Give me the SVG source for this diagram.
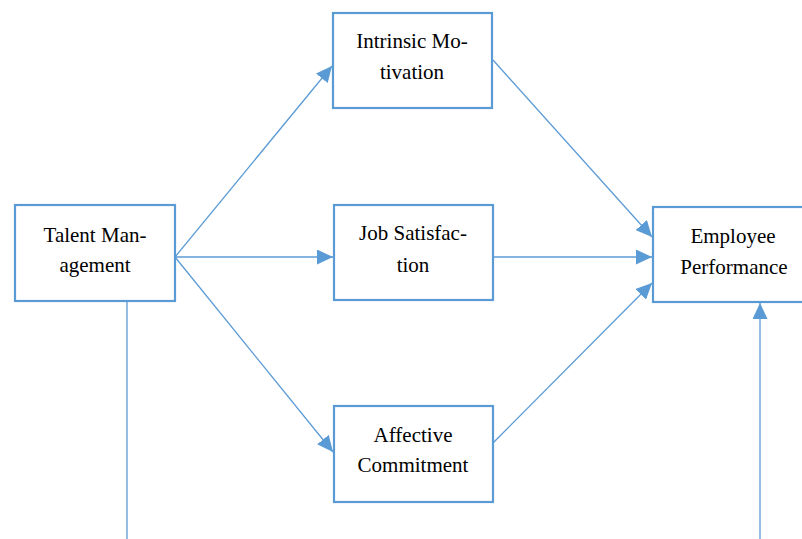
<svg xmlns="http://www.w3.org/2000/svg" width="802" height="539" viewBox="0 0 802 539">
  <style>
    .box { fill: #ffffff; stroke: #5b9bd5; stroke-width: 2.2; }
    .lbl { font-family: 'Liberation Serif', 'Times New Roman', serif; font-size: 21px; fill: #000000; text-anchor: middle; }
    .edge { fill: none; stroke: #5b9bd5; stroke-width: 1.3; }
  </style>
  <defs>
    <marker id="arr" viewBox="0 0 10 10" refX="10" refY="5" markerWidth="16" markerHeight="15" markerUnits="userSpaceOnUse" orient="auto" preserveAspectRatio="none">
      <path d="M0,0 L10,5 L0,10 z" fill="#5b9bd5"/>
    </marker>
  </defs>

  <g id="connectors">
    <line class="edge" x1="175" y1="257" x2="332" y2="66" marker-end="url(#arr)"/>
    <line class="edge" x1="175" y1="257" x2="333" y2="257" marker-end="url(#arr)"/>
    <line class="edge" x1="175" y1="257" x2="333" y2="452" marker-end="url(#arr)"/>
    <line class="edge" x1="493" y1="60" x2="652" y2="237" marker-end="url(#arr)"/>
    <line class="edge" x1="493" y1="257" x2="652" y2="257" marker-end="url(#arr)"/>
    <line class="edge" x1="493" y1="443" x2="652" y2="283" marker-end="url(#arr)"/>
    <line class="edge" x1="127" y1="301" x2="127" y2="539"/>
    <line class="edge" x1="760" y1="539" x2="760" y2="303" marker-end="url(#arr)"/>
  </g>

  <g id="talent-management">
    <rect class="box" x="15" y="205" width="160" height="96"/>
    <text class="lbl" x="95" y="242">Talent Man-</text>
    <text class="lbl" x="95" y="272">agement</text>
  </g>

  <g id="intrinsic-motivation">
    <rect class="box" x="333" y="13" width="159" height="95"/>
    <text class="lbl" x="412" y="48">Intrinsic Mo-</text>
    <text class="lbl" x="412" y="79">tivation</text>
  </g>

  <g id="job-satisfaction">
    <rect class="box" x="334" y="205" width="159" height="95"/>
    <text class="lbl" x="413" y="240">Job Satisfac-</text>
    <text class="lbl" x="413" y="272">tion</text>
  </g>

  <g id="affective-commitment">
    <rect class="box" x="334" y="406" width="159" height="96"/>
    <text class="lbl" x="413" y="442">Affective</text>
    <text class="lbl" x="413" y="472">Commitment</text>
  </g>

  <g id="employee-performance">
    <rect class="box" x="653" y="207" width="152" height="95"/>
    <text class="lbl" x="733" y="243">Employee</text>
    <text class="lbl" x="734" y="274">Performance</text>
  </g>
</svg>
